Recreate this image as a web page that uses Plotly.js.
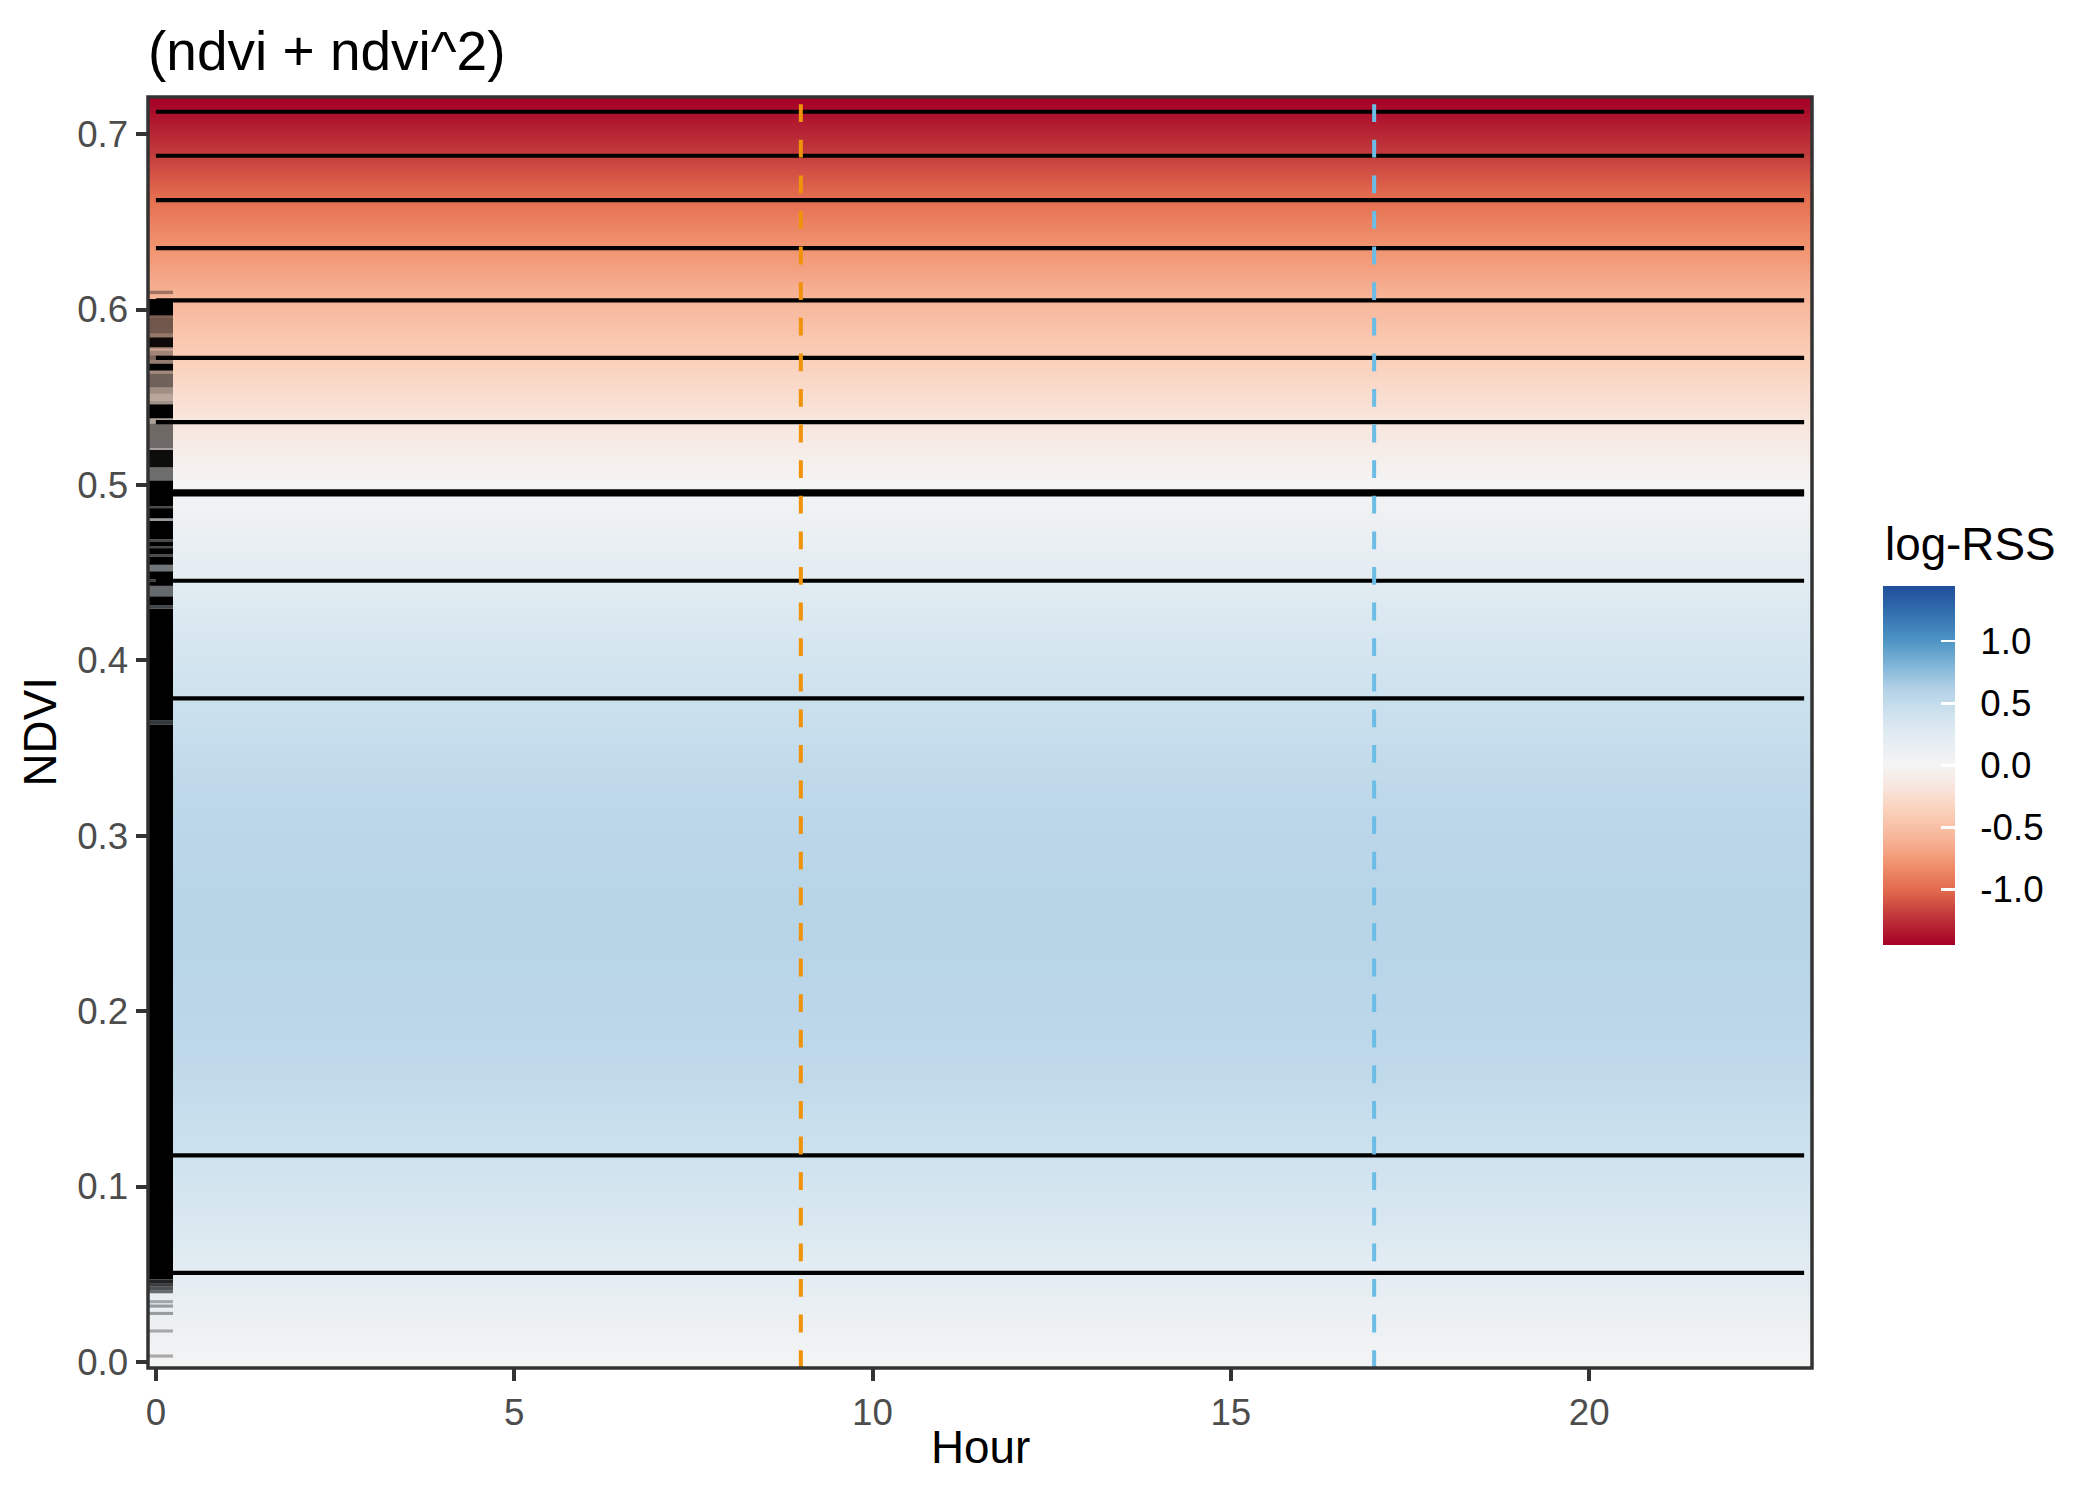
<!DOCTYPE html>
<html>
<head>
<meta charset="utf-8">
<script src="https://cdn.plot.ly/plotly-3.0.1.min.js"></script>
<style>html,body{margin:0;padding:0;background:#fff;}#chart{width:2100px;height:1500px;}</style>
</head>
<body>
<div id="chart"></div>
<script>
// ---- data ----
const ndvi = [0.00,0.02,0.04,0.06,0.08,0.10,0.12,0.14,0.16,0.18,0.20,0.22,0.24,0.26,0.28,0.30,0.32,0.34,0.36,0.38,0.40,0.42,0.44,0.46,0.48,0.50,0.52,0.54,0.56,0.58,0.60,0.62,0.64,0.66,0.68,0.70,0.72];
const logRSS = [0.01,0.095,0.18,0.25,0.32,0.37,0.43,0.47,0.51,0.54,0.56,0.57,0.58,0.58,0.57,0.56,0.54,0.51,0.47,0.43,0.37,0.32,0.25,0.18,0.095,0.01,-0.09,-0.19,-0.30,-0.42,-0.54,-0.68,-0.81,-0.96,-1.12,-1.28,-1.445];
const hourSpan = [0, 23];
const hlineNdvi = [0.0508,0.1178,0.3784,0.4454,0.4947,0.4964,0.5359,0.5725,0.6053,0.6350,0.6624,0.6877,0.7128];
const vlineHours = [9, 17];
// rug of observed NDVI (bands: low, high, opacity)
const rugLo = [0.0025,0.0168,0.0268,0.0310,0.0335,0.0392,0.0410,0.0430,0.0450,0.0470,0.3635,0.3660,0.4295,0.4313,0.4365,0.4425,0.4450,0.4462,0.4508,0.4545,0.4592,0.4604,0.4640,0.4652,0.4678,0.4690,0.4795,0.4810,0.4868,0.4880,
               0.5026,0.5100,0.5200,0.5210,0.5350,0.5380,0.5460,0.5480,0.5520,0.5556,0.5635,0.5652,0.5692,0.5710,0.5740,0.5766,0.5778,0.5785,0.5842,0.5863,0.5956,0.5966,0.6088];
const rugHi = [0.0043,0.0186,0.0286,0.0328,0.0353,0.0410,0.0430,0.0450,0.0470,0.3635,0.3660,0.4295,0.4313,0.4365,0.4425,0.4450,0.4462,0.4508,0.4545,0.4592,0.4604,0.4640,0.4652,0.4678,0.4690,0.4795,0.4810,0.4868,0.4880,0.5026,
               0.5100,0.5200,0.5210,0.5350,0.5380,0.5460,0.5480,0.5520,0.5556,0.5635,0.5652,0.5692,0.5710,0.5740,0.5766,0.5778,0.5785,0.5842,0.5863,0.5956,0.5966,0.6060,0.6108];
const rugAlpha = [0.3,0.3,0.35,0.35,0.3,0.55,0.65,0.75,0.85,1,0.75,1,0.7,1,0.55,1,0.75,1,0.5,1,0.7,1,0.7,1,0.7,1,0.35,1,0.7,1,
               0.55,0.95,0.3,0.55,0.3,1,0.35,0.25,0.35,0.55,0.35,1,0.4,0.5,0.35,0.2,0.4,0.95,0.4,0.55,0.5,1,0.35];
const cbTicks = [-1.0,-0.5,0.0,0.5,1.0];
const cbTickText = ['-1.0','-0.5','0.0','0.5','1.0'];
const xTicks = [0,5,10,15,20];
const yTicks = [0.0,0.1,0.2,0.3,0.4,0.5,0.6,0.7];

// ---- styles ----
const FONT = 'Liberation Sans, Arial, Helvetica, sans-serif';
const xRange = [-0.11, 23.11];
const yRange = [-0.0034, 0.7212];
const colorscale = [
  [0.000,'#A50026'],[0.080,'#C0363A'],[0.154,'#E36B4E'],[0.223,'#F0906C'],
  [0.292,'#F7B396'],[0.372,'#FAD0BA'],[0.434,'#F8E4DA'],[0.500,'#F4F4F4'],
  [0.580,'#E3ECF2'],[0.645,'#CEE2EE'],[0.708,'#B5D3E7'],[0.770,'#86B9DA'],
  [0.846,'#4F95C5'],[0.920,'#3472B0'],[1.000,'#1F4E9A']
];
const zLim = 1.445;
const PAD = '\u00A0\u2009';

const heat = {
  type: 'heatmap',
  x: hourSpan,
  y: ndvi,
  z: logRSS.map(v => hourSpan.map(() => v)),
  zmin: -zLim, zmax: zLim,
  zsmooth: 'best',
  colorscale: colorscale,
  hoverinfo: 'skip',
  colorbar: {
    x: 1.0427, xanchor: 'left', xpad: 0,
    y: 0.4741, yanchor: 'middle', ypad: 0,
    len: 359, lenmode: 'pixels',
    thickness: 72, thicknessmode: 'pixels',
    outlinewidth: 0,
    tickmode: 'array', tickvals: cbTicks, ticktext: cbTickText.map(t => PAD + t),
    ticks: 'inside', ticklen: 14, tickwidth: 2.5, tickcolor: '#FFFFFF',
    tickfont: {family: FONT, size: 36.7, color: '#000000'}
  }
};

const hx = [], hy = [];
hlineNdvi.forEach(v => { hx.push(hourSpan[0], hourSpan[1], null); hy.push(v, v, null); });
const hlines = {
  type: 'scatter', mode: 'lines', x: hx, y: hy,
  line: {color: '#000000', width: 4.2}, hoverinfo: 'skip', showlegend: false
};

const rug = {
  type: 'bar',
  x: rugLo.map(() => 0.0645),
  base: rugLo,
  y: rugLo.map((lo, i) => rugHi[i] - lo),
  width: rugLo.map(() => 0.349),
  marker: {color: rugAlpha.map(a => 'rgba(0,0,0,' + a + ')'), line: {width: 0}},
  hoverinfo: 'skip', showlegend: false
};

const vColors = ['#F0920A', '#6BBDE6'];
const shapes = vlineHours.map((h, i) => ({
  type: 'line', xref: 'x', yref: 'paper', x0: h, x1: h, y0: 0, y1: 1,
  line: {color: vColors[i], width: 4, dash: '17.8px,17.8px'}, layer: 'above'
}));
shapes.push({type: 'rect', xref: 'paper', yref: 'paper', x0: 0, x1: 1, y0: 0, y1: 1,
  line: {color: '#333333', width: 3.5}, fillcolor: 'rgba(0,0,0,0)', layer: 'above'});

const axisCommon = {
  showgrid: false, zeroline: false, showline: false,
  ticks: 'outside', ticklen: 11.5, tickwidth: 4, tickcolor: '#333333',
  tickfont: {family: FONT, size: 36.7, color: '#4D4D4D'},
  tickmode: 'array'
};

const layout = {
  width: 2100, height: 1500,
  margin: {l: 148, r: 288, t: 97, b: 132, pad: 0},
  paper_bgcolor: '#FFFFFF', plot_bgcolor: '#FFFFFF',
  font: {family: FONT, color: '#000000'},
  showlegend: false,
  barmode: 'overlay',
  title: {text: '(ndvi + ndvi^2)', x: 0, xref: 'paper', xanchor: 'left',
          y: 0.966, yref: 'container', yanchor: 'middle',
          font: {family: FONT, size: 55, color: '#000000'}},
  xaxis: Object.assign({}, axisCommon, {range: xRange, tickvals: xTicks, ticktext: xTicks.map(String)}),
  yaxis: Object.assign({}, axisCommon, {range: yRange, tickvals: yTicks, ticktext: yTicks.map(v => v.toFixed(1))}),
  shapes: shapes,
  annotations: [
    {text: 'NDVI', xref: 'paper', yref: 'paper', x: -0.0649, y: 0.5, xanchor: 'center', yanchor: 'middle',
     textangle: -90, showarrow: false, font: {family: FONT, size: 45.8, color: '#000000'}},
    {text: 'Hour', xref: 'paper', yref: 'paper', x: 0.5, y: -0.0629, xanchor: 'center', yanchor: 'middle',
     showarrow: false, font: {family: FONT, size: 45.8, color: '#000000'}},
    {text: 'log-RSS', xref: 'paper', yref: 'paper', x: 1.0427, y: 0.6483, xanchor: 'left', yanchor: 'middle',
     showarrow: false, font: {family: FONT, size: 45.8, color: '#000000'}}
  ]
};

Plotly.newPlot('chart', [heat, hlines, rug], layout, {displayModeBar: false, staticPlot: true});
</script>
</body>
</html>
